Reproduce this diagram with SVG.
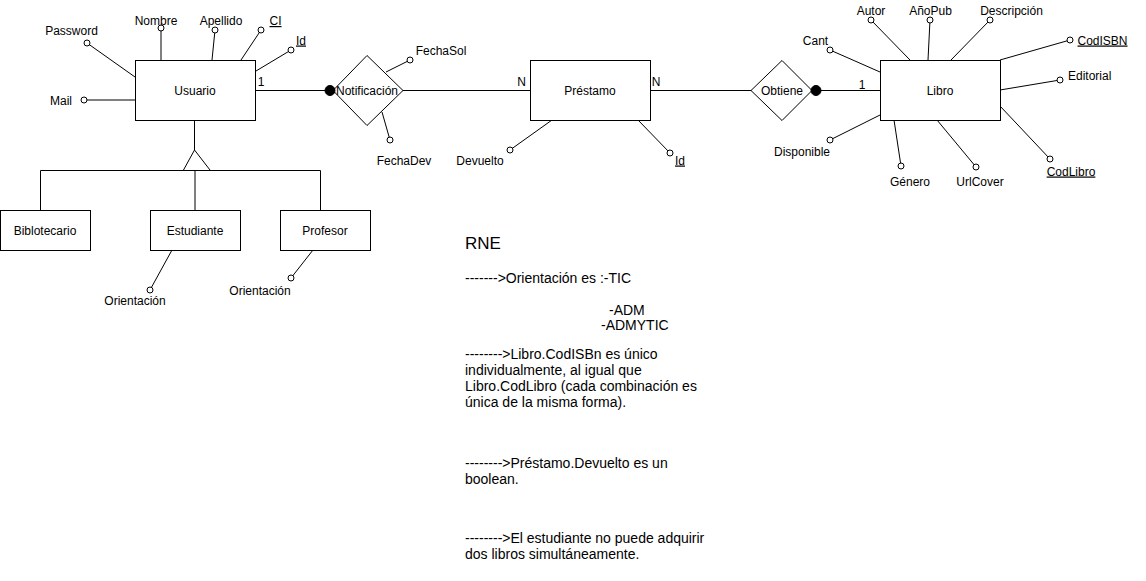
<svg xmlns="http://www.w3.org/2000/svg" width="1146" height="581" viewBox="0 0 1146 581">
<style>
text{font-family:"Liberation Sans",Arial,sans-serif;font-size:12px;fill:#000}
.c{text-anchor:middle}
.u{text-decoration:underline}
.box{fill:#fff;stroke:#000;stroke-width:1}
.dia{fill:#fff;stroke:#000;stroke-width:1}
.att{fill:#fff;stroke:#000;stroke-width:1}
.dot{fill:#000;stroke:#000}
#connectors line,#connectors polyline{stroke:#000;stroke-width:1;fill:none}
.note{font-size:14px}
</style>
<rect width="1146" height="581" fill="#fff"/>
<g id="connectors">
  <line x1="135" y1="77" x2="87" y2="43"/>
  <line x1="161" y1="60" x2="161" y2="28"/>
  <line x1="212" y1="60" x2="215" y2="30"/>
  <line x1="241" y1="60" x2="261" y2="30"/>
  <line x1="256" y1="71" x2="291" y2="50"/>
  <line x1="135" y1="100" x2="84" y2="100"/>
  <line x1="255" y1="90.5" x2="330" y2="90.5"/>
  <line x1="386" y1="72" x2="410" y2="60"/>
  <line x1="382" y1="112" x2="390" y2="140"/>
  <line x1="403" y1="90.5" x2="530" y2="90.5"/>
  <line x1="552" y1="120" x2="510" y2="150"/>
  <line x1="638" y1="120" x2="670" y2="153"/>
  <line x1="650" y1="90.5" x2="751" y2="90.5"/>
  <line x1="816" y1="90.5" x2="880" y2="90.5"/>
  <line x1="880" y1="72" x2="830" y2="50"/>
  <line x1="910" y1="60" x2="871" y2="20"/>
  <line x1="928" y1="60" x2="930" y2="20"/>
  <line x1="951" y1="60" x2="990" y2="20"/>
  <line x1="1000" y1="60" x2="1070" y2="40"/>
  <line x1="1000" y1="90" x2="1060" y2="80"/>
  <line x1="1000" y1="106" x2="1050" y2="159"/>
  <line x1="937" y1="120" x2="976" y2="167"/>
  <line x1="894" y1="120" x2="901" y2="166"/>
  <line x1="880" y1="115" x2="830" y2="140"/>
  <line x1="194.5" y1="120" x2="194.5" y2="150"/>
  <polyline points="183.5,170 194.5,150 210,170"/>
  <polyline points="40.5,210 40.5,170.5 320.5,170.5 320.5,210"/>
  <line x1="195" y1="170.5" x2="195" y2="210"/>
  <line x1="172" y1="250" x2="150" y2="290"/>
  <line x1="313" y1="250" x2="291" y2="278"/>
</g>
<g id="usuario">
  <rect class="box" x="135.5" y="60.5" width="120" height="60"/>
  <text class="c" x="195" y="94.5">Usuario</text>
</g>
<g id="usuario-attrs">
  <circle class="att" cx="87" cy="43" r="3"/><text class="c" x="71.5" y="35">Password</text>
  <circle class="att" cx="161" cy="28" r="3"/><text class="c" x="156" y="25">Nombre</text>
  <circle class="att" cx="215" cy="30" r="3"/><text class="c" x="221" y="25">Apellido</text>
  <circle class="att" cx="261" cy="30" r="3"/><text class="c u" x="275.5" y="25">CI</text>
  <circle class="att" cx="291" cy="50" r="3"/><text class="c u" x="301" y="44.5">Id</text>
  <circle class="att" cx="84" cy="100" r="3"/><text class="c" x="61" y="104.5">Mail</text>
  <text class="c" x="261" y="86">1</text>
</g>
<g id="notificacion">
  <polygon class="dia" points="333,90.5 367,55.5 403,90.5 367,125.5"/>
  <circle class="dot" cx="330" cy="90.5" r="5"/>
  <text class="c" x="367" y="94.5">Notificación</text>
  <circle class="att" cx="410" cy="60" r="3"/><text class="c" x="441" y="54.5">FechaSol</text>
  <circle class="att" cx="390" cy="140" r="3"/><text class="c" x="404" y="164.5">FechaDev</text>
</g>
<g id="prestamo">
  <rect class="box" x="530.5" y="60.5" width="120" height="60"/>
  <text class="c" x="590" y="94.5">Préstamo</text>
  <text class="c" x="521.5" y="86">N</text>
  <text class="c" x="656" y="86">N</text>
  <circle class="att" cx="510" cy="150" r="3"/><text class="c" x="480" y="164.5">Devuelto</text>
  <circle class="att" cx="670" cy="153" r="3"/><text class="c u" x="680" y="164.5">Id</text>
</g>
<g id="obtiene">
  <polygon class="dia" points="751,90.5 782,60.5 812,90.5 782,120.5"/>
  <circle class="dot" cx="816" cy="90.5" r="5"/>
  <text class="c" x="782" y="94.5">Obtiene</text>
  <text class="c" x="862" y="89">1</text>
</g>
<g id="libro">
  <rect class="box" x="880.5" y="60.5" width="120" height="60"/>
  <text class="c" x="940" y="94.5">Libro</text>
</g>
<g id="libro-attrs">
  <circle class="att" cx="830" cy="50" r="3"/><text class="c" x="815.5" y="45">Cant</text>
  <circle class="att" cx="871" cy="20" r="3"/><text class="c" x="871" y="15">Autor</text>
  <circle class="att" cx="930" cy="20" r="3"/><text class="c" x="930.5" y="15">AñoPub</text>
  <circle class="att" cx="990" cy="20" r="3"/><text class="c" x="1011.5" y="15">Descripción</text>
  <circle class="att" cx="1070" cy="40" r="3"/><text class="u" x="1077.5" y="44.5">CodISBN</text>
  <circle class="att" cx="1060" cy="80" r="3"/><text x="1068" y="79.5">Editorial</text>
  <circle class="att" cx="1050" cy="159" r="3"/><text class="c u" x="1071" y="175.5">CodLibro</text>
  <circle class="att" cx="976" cy="167" r="3"/><text class="c" x="980" y="186">UrlCover</text>
  <circle class="att" cx="901" cy="166" r="3"/><text class="c" x="910" y="186">Género</text>
  <circle class="att" cx="830" cy="140" r="3"/><text class="c" x="802" y="155.5">Disponible</text>
</g>
<g id="biblotecario">
  <rect class="box" x="0.5" y="210.5" width="90" height="40"/>
  <text class="c" x="45" y="234.5">Biblotecario</text>
</g>
<g id="estudiante">
  <rect class="box" x="150.5" y="210.5" width="90" height="40"/>
  <text class="c" x="195" y="234.5">Estudiante</text>
  <circle class="att" cx="150" cy="290" r="3"/><text class="c" x="135" y="304.5">Orientación</text>
</g>
<g id="profesor">
  <rect class="box" x="280.5" y="210.5" width="90" height="40"/>
  <text class="c" x="325" y="234.5">Profesor</text>
  <circle class="att" cx="291" cy="278" r="3"/><text class="c" x="260" y="294.5">Orientación</text>
</g>
<g id="rne">
  <text x="465" y="249" style="font-size:17px">RNE</text>
  <text class="note" x="465" y="283">------->Orientación es :-TIC</text>
  <text class="note" x="609" y="315">-ADM</text>
  <text class="note" x="601" y="330">-ADMYTIC</text>
  <text class="note" x="465" y="359">-------->Libro.CodISBn es único</text>
  <text class="note" x="465" y="375">individualmente, al igual que</text>
  <text class="note" x="465" y="391">Libro.CodLibro (cada combinación es</text>
  <text class="note" x="465" y="407">única de la misma forma).</text>
  <text class="note" x="465" y="468">-------->Préstamo.Devuelto es un</text>
  <text class="note" x="465" y="484">boolean.</text>
  <text class="note" x="465" y="543">-------->El estudiante no puede adquirir</text>
  <text class="note" x="465" y="559">dos libros simultáneamente.</text>
</g>
</svg>
